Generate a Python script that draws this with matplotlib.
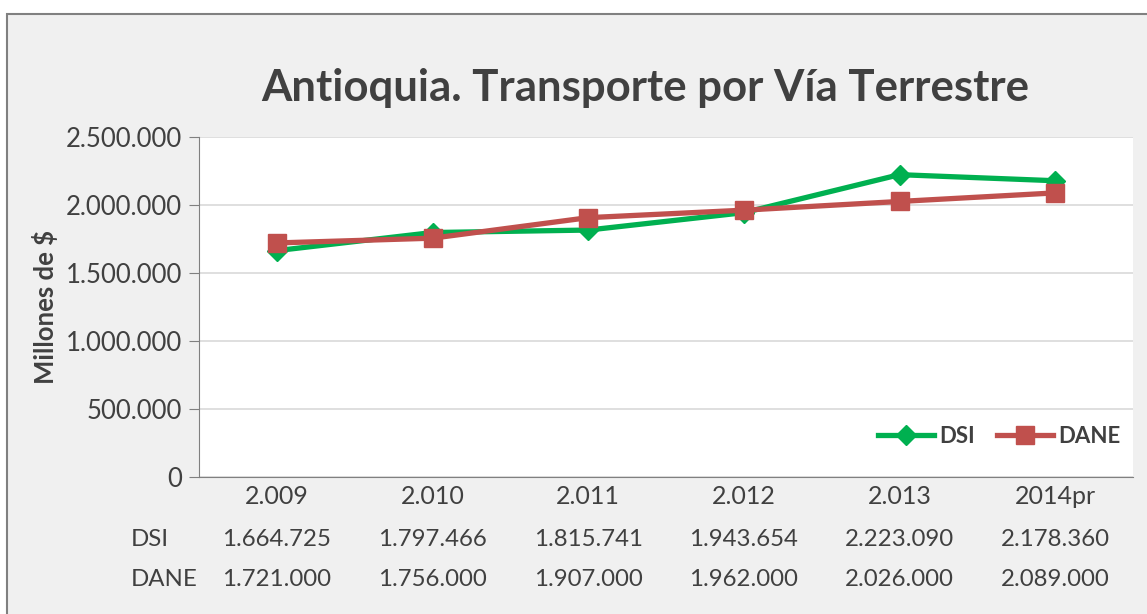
import matplotlib.pyplot as plt
from matplotlib.patches import Rectangle
from matplotlib.ticker import FuncFormatter

plt.rcParams['font.family'] = ['Lato', 'DejaVu Sans']

years = ["2.009", "2.010", "2.011", "2.012", "2.013", "2014pr"]
dsi = [1664725, 1797466, 1815741, 1943654, 2223090, 2178360]
dane = [1721000, 1756000, 1907000, 1962000, 2026000, 2089000]

txt = "#404040"
verde = "#00B050"
rojo = "#C0504D"


def miles(v):
    return f"{v:,.0f}".replace(",", ".")


fig = plt.figure(figsize=(11.47, 6.14), dpi=100, facecolor="white")
fig.patches.append(Rectangle((7 / 1147, -0.01), 1.02, 1 - 14 / 614 + 0.01,
                             transform=fig.transFigure, facecolor="#f0f0f0",
                             edgecolor="#808080", linewidth=1.5, zorder=-1))

ax = fig.add_axes([199 / 1147, 1 - 477 / 614, (1133 - 199) / 1147, (477 - 137) / 614])
x = range(len(years))
ax.plot(x, dsi, color=verde, lw=3.8, marker="D", ms=10, label="DSI", zorder=3)
ax.plot(x, dane, color=rojo, lw=3.8, marker="s", ms=13, label="DANE", zorder=4)

ax.set_xlim(-0.5, len(years) - 0.5)
ax.set_ylim(0, 2500000)
ax.set_yticks(range(0, 2500001, 500000))
ax.yaxis.set_major_formatter(FuncFormatter(lambda v, p: miles(v)))
ax.grid(axis="y", color="#d9d9d9", lw=1.2)
ax.set_axisbelow(True)
for s in ["top", "right"]:
    ax.spines[s].set_visible(False)
ax.spines["left"].set_color("#808080")
ax.spines["bottom"].set_color("#808080")
ax.tick_params(axis="y", colors="#808080", length=7, labelsize=18.5, labelcolor=txt, pad=5)
ax.set_xticks(list(x))
ax.set_xticklabels(years)
ax.tick_params(axis="x", length=0, labelsize=18, labelcolor=txt, pad=6)

ax.set_ylabel("Millones de $", fontsize=18.5, fontweight="bold", color=txt)
ax.yaxis.set_label_coords(-0.151, 0.50)

# tabla de datos debajo del eje
for i in x:
    ax.text(i, -0.183, miles(dsi[i]), transform=ax.get_xaxis_transform(),
            ha="center", va="center", fontsize=17.3, color=txt)
    ax.text(i, -0.30, miles(dane[i]), transform=ax.get_xaxis_transform(),
            ha="center", va="center", fontsize=17.3, color=txt)
fig.text(131 / 1147, 1 - 539 / 614, "DSI", ha="left", va="center", fontsize=17.3, color=txt)
fig.text(131 / 1147, 1 - 579 / 614, "DANE", ha="left", va="center", fontsize=17.3, color=txt)

fig.text(645 / 1147, 1 - 88 / 614, "Antioquia. Transporte por Vía Terrestre",
         ha="center", va="center", fontsize=31.5, fontweight="bold", color=txt)

ax.legend(loc="lower right", ncol=2, frameon=False,
          prop={"weight": "bold", "size": 16}, labelcolor=txt,
          handlelength=2.5, handletextpad=0.25, columnspacing=1.0,
          bbox_to_anchor=(1.008, 0.03))

fig.savefig("out.png", dpi=100)
